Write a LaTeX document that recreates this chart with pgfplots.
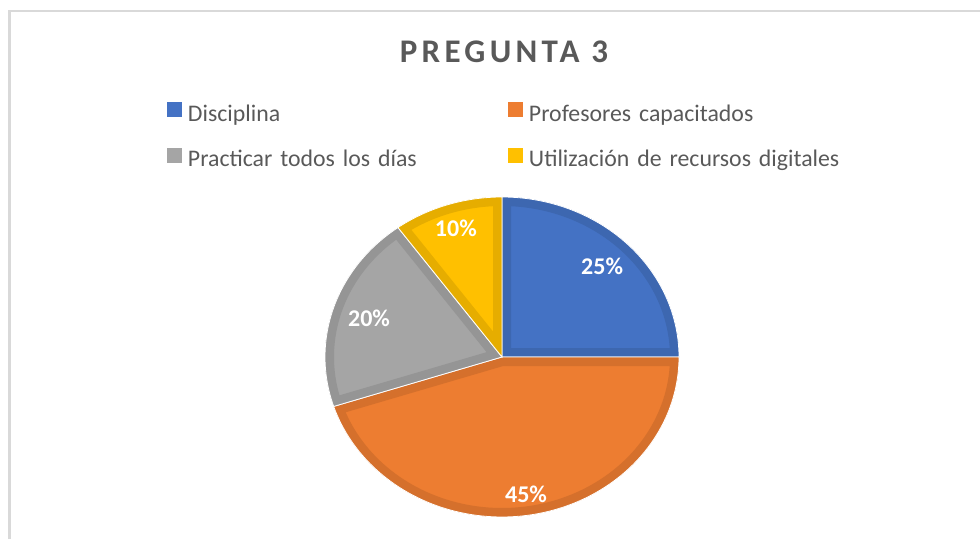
\documentclass[border=0pt]{standalone}
\usepackage{fontspec}
\setmainfont{Carlito}
\newfontfamily\titlefont[LetterSpace=13]{Carlito}
\usepackage{pgfplots}
\usepackage{pgfplotstable}
\pgfplotsset{compat=1.18}

\definecolor{c0}{HTML}{4472C4}\definecolor{d0}{HTML}{3D67B0}
\definecolor{c1}{HTML}{ED7D31}\definecolor{d1}{HTML}{D5702C}
\definecolor{c2}{HTML}{A5A5A5}\definecolor{d2}{HTML}{959595}
\definecolor{c3}{HTML}{FFC000}\definecolor{d3}{HTML}{E6AD00}
\definecolor{txt}{HTML}{595959}
\definecolor{framec}{HTML}{D9D9D9}

% share of each answer (%), and where its label sits (fraction of radius)
\pgfplotstableread{
idx value lr
0 25 0.80
1 45 0.867
2 20 0.79
3 10 0.843
}\piedata

% slice angles, clockwise from 12 o'clock
\def\curang{90}
\pgfplotsforeachungrouped \i in {0,...,3}{%
  \pgfplotstablegetelem{\i}{value}\of\piedata
  \expandafter\xdef\csname val\i\endcsname{\pgfplotsretval}%
  \pgfplotstablegetelem{\i}{lr}\of\piedata
  \expandafter\xdef\csname lr\i\endcsname{\pgfplotsretval}%
  \pgfmathsetmacro\endang{\curang-3.6*\csname val\i\endcsname}%
  \expandafter\xdef\csname sa\i\endcsname{\curang}%
  \expandafter\xdef\csname ea\i\endcsname{\endang}%
  \xdef\curang{\endang}%
}

% pie centre and radii in pixel units
\def\cx{502}\def\cy{182}\def\rx{177}\def\ry{160}
\newcommand\slicepath[1]{(axis cs:\cx,\cy) -- plot[domain=\csname ea#1\endcsname:\csname sa#1\endcsname, samples=90, variable=\t] ({\cx+\rx*cos(\t)},{\cy+\ry*sin(\t)}) -- cycle}

\begin{document}
\begin{tikzpicture}
\begin{axis}[
    scale only axis, width=980bp, height=539bp,
    xmin=0, xmax=980, ymin=0, ymax=539,
    hide axis, clip=false,
    legend columns=2,
    legend cell align=left,
    legend image code/.code={\fill[#1, draw=none] (0bp,-1.3bp) rectangle (15bp,13.7bp);},
    legend style={draw=none, fill=none, inner sep=0pt, outer sep=0pt,
        at={(167/980,437/539)}, anchor=north west,
        font=\fontsize{23.8bp}{28bp}\selectfont, text=txt,
        row sep=21.5bp,
        nodes={inner sep=0pt, text height=16bp, text depth=5bp},
        /tikz/every odd column/.append style={column sep=6bp},
        /tikz/every even column/.append style={text width=320bp}},
]
\coordinate (LL) at (axis cs:0,0);
\coordinate (UR) at (axis cs:980,539);
\addlegendimage{fill=c0}\addlegendentry{Disciplina}
\addlegendimage{fill=c1}\addlegendentry{Profesores capacitados}
\addlegendimage{fill=c2}\addlegendentry{Practicar todos los días}
\addlegendimage{fill=c3}\addlegendentry{Utilización de recursos digitales}

\draw[framec, line width=2.5bp] (axis cs:9.5,0) -- (axis cs:9.5,528) -- (axis cs:980,528);

\node[font=\titlefont\bfseries\fontsize{33bp}{38bp}\selectfont, text=txt]
    at (axis cs:504,487) {PREGUNTA 3};

\pgfplotsinvokeforeach{0,...,3}{
  \begin{scope}
    \clip \slicepath{#1};
    \fill[c#1] \slicepath{#1};
    \draw[d#1, line width=18bp] \slicepath{#1};
  \end{scope}
  \draw[white, line width=0.8bp] \slicepath{#1};
}
\pgfplotsinvokeforeach{0,...,3}{
  \node[font=\bfseries\fontsize{24bp}{27bp}\selectfont, text=white]
    at (axis cs:{\cx+\rx*\csname lr#1\endcsname*cos((\csname sa#1\endcsname+\csname ea#1\endcsname)/2)},
                {\cy+\ry*\csname lr#1\endcsname*sin((\csname sa#1\endcsname+\csname ea#1\endcsname)/2)})
    {\csname val#1\endcsname\%};
}
\end{axis}
\pgfresetboundingbox
\useasboundingbox (LL) rectangle (UR);
\end{tikzpicture}
\end{document}
